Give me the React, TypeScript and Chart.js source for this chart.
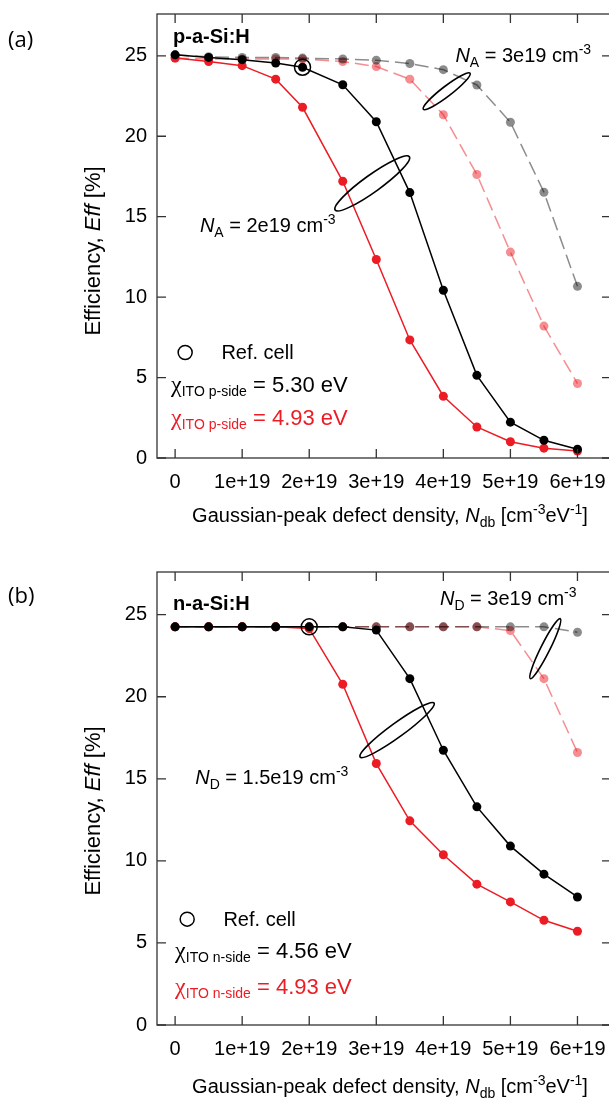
import React, { useEffect, useRef } from "react";
import { Chart, registerables } from "chart.js";
Chart.register(...registerables);

// ---------- data ----------
const xTickValues = [0, 1, 2, 3, 4, 5, 6]; // units of 1e19 cm^-3 eV^-1
const yTickValues = [0, 5, 10, 15, 20, 25];

// panel (a) p-a-Si:H
const xA = [0, 0.5, 1, 1.5, 1.9, 2.5, 3, 3.5, 4, 4.5, 5, 5.5, 6];
const effA_530_NA2 = [25.06, 24.9, 24.76, 24.55, 24.29, 23.2, 20.9, 16.5, 10.43, 5.14, 2.23, 1.1, 0.55];
const effA_493_NA2 = [24.86, 24.65, 24.39, 23.55, 21.8, 17.2, 12.34, 7.34, 3.84, 1.93, 1.01, 0.61, 0.43];
const effA_530_NA3 = [25.06, 24.94, 24.9, 24.9, 24.86, 24.8, 24.73, 24.52, 24.14, 23.19, 20.87, 16.52, 10.67];
const effA_493_NA3 = [24.86, 24.8, 24.8, 24.8, 24.8, 24.65, 24.33, 23.55, 21.34, 17.62, 12.8, 8.2, 4.63];
const refIndexA = 4;

// panel (b) n-a-Si:H
const xB = [0, 0.5, 1, 1.5, 2, 2.5, 3, 3.5, 4, 4.5, 5, 5.5, 6];
const effB_456_ND15 = [24.26, 24.26, 24.26, 24.26, 24.26, 24.26, 24.06, 21.1, 16.74, 13.29, 10.9, 9.19, 7.8];
const effB_493_ND15 = [24.26, 24.26, 24.26, 24.26, 24.15, 20.76, 15.93, 12.44, 10.37, 8.58, 7.5, 6.38, 5.71];
const effB_456_ND3 = [24.26, 24.26, 24.26, 24.26, 24.26, 24.26, 24.26, 24.26, 24.26, 24.26, 24.26, 24.26, 23.93];
const effB_493_ND3 = [24.26, 24.26, 24.26, 24.26, 24.26, 24.26, 24.26, 24.26, 24.26, 24.26, 24.03, 21.1, 16.6];
const refIndexB = 4;

// ---------- styles ----------
const BLACK = "#000000";
const RED = "#ec1c24";
const RED_LIGHT = "rgba(236,28,36,0.5)";
const GRAY = "rgba(0,0,0,0.45)";
const SANS = "'Liberation Sans', Arial, sans-serif";
const SERIF = "'Liberation Serif', 'Times New Roman', serif";

type Seg = { t: string; f: string; dy?: number; c?: string };

function richWidth(ctx: CanvasRenderingContext2D, segs: Seg[]) {
  let w = 0;
  for (const s of segs) {
    ctx.font = s.f;
    w += ctx.measureText(s.t).width;
  }
  return w;
}
function drawRich(ctx: CanvasRenderingContext2D, x: number, y: number, segs: Seg[], color: string) {
  let cx = x;
  ctx.textBaseline = "alphabetic";
  ctx.textAlign = "left";
  for (const s of segs) {
    ctx.font = s.f;
    ctx.fillStyle = s.c || color;
    ctx.fillText(s.t, cx, y + (s.dy || 0));
    cx += ctx.measureText(s.t).width;
  }
}

const F20 = `20px ${SANS}`;
const F20I = `italic 20px ${SANS}`;
const F14 = `14px ${SANS}`;

function dopingLabel(letter: string, value: string): Seg[] {
  return [
    { t: "N", f: F20I },
    { t: letter, f: F14, dy: 5 },
    { t: ` = ${value} cm`, f: F20 },
    { t: "-3", f: F14, dy: -8 },
  ];
}
function chiLabel(side: string, value: string): Seg[] {
  return [
    { t: "\u03c7", f: `24px ${SERIF}` },
    { t: `ITO ${side}`, f: F14, dy: 4 },
    { t: ` = ${value} eV`, f: `22px ${SANS}` },
  ];
}

type Panel = {
  canvasH: number;
  padTop: number;
  xAxisH: number;
  letter: string;
  letterY: number;
  yTitleY: number;
  xTitleY: number;
  xs: number[];
  blackSolid: number[];
  redSolid: number[];
  grayDashed: number[];
  redDashed: number[];
  refIndex: number;
  material: string;
  materialPos: [number, number];
  upperLabel: Seg[];
  upperLabelPos: [number, number];
  lowerLabel: Seg[];
  lowerLabelPos: [number, number];
  ellipses: { c: [number, number]; rx: number; ry: number; rot: number }[];
  legendCircle: [number, number];
  legendText: [number, number];
  chiBlack: Seg[];
  chiRed: Seg[];
  chiPos: [number, number, number];
};

const panelA: Panel = {
  canvasH: 540,
  padTop: 5,
  xAxisH: 82,
  letter: "(a)",
  letterY: 47,
  yTitleY: 251,
  xTitleY: 522,
  xs: xA,
  blackSolid: effA_530_NA2,
  redSolid: effA_493_NA2,
  grayDashed: effA_530_NA3,
  redDashed: effA_493_NA3,
  refIndex: refIndexA,
  material: "p-a-Si:H",
  materialPos: [-0.03, 25.8],
  upperLabel: dopingLabel("A", "3e19"),
  upperLabelPos: [4.18, 24.59],
  lowerLabel: dopingLabel("A", "2e19"),
  lowerLabelPos: [0.37, 14.02],
  ellipses: [
    { c: [4.05, 22.8], rx: 29.5, ry: 5, rot: -37.6 },
    { c: [2.94, 17.07], rx: 45.7, ry: 8.5, rot: -35.7 },
  ],
  legendCircle: [0.15, 6.56],
  legendText: [0.69, 6.18],
  chiBlack: chiLabel("p-side", "5.30"),
  chiRed: chiLabel("p-side", "4.93"),
  chiPos: [-0.06, 4.1, 2.03],
};

const panelB: Panel = {
  canvasH: 566,
  padTop: 32,
  xAxisH: 81,
  letter: "(b)",
  letterY: 63,
  yTitleY: 271,
  xTitleY: 553,
  xs: xB,
  blackSolid: effB_456_ND15,
  redSolid: effB_493_ND15,
  grayDashed: effB_456_ND3,
  redDashed: effB_493_ND3,
  refIndex: refIndexB,
  material: "n-a-Si:H",
  materialPos: [-0.03, 25.26],
  upperLabel: dopingLabel("D", "3e19"),
  upperLabelPos: [3.95, 25.56],
  lowerLabel: dopingLabel("D", "1.5e19"),
  lowerLabelPos: [0.3, 14.71],
  ellipses: [
    { c: [5.52, 22.93], rx: 33.5, ry: 4.5, rot: -63.4 },
    { c: [3.31, 17.97], rx: 45.8, ry: 7, rot: -36.1 },
  ],
  legendCircle: [0.18, 6.45],
  legendText: [0.72, 6.03],
  chiBlack: chiLabel("n-side", "4.56"),
  chiRed: chiLabel("n-side", "4.93"),
  chiPos: [0, 4.08, 1.89],
};

const xTitle: Seg[] = [
  { t: "Gaussian-peak defect density, ", f: F20 },
  { t: "N", f: F20I },
  { t: "db", f: F14, dy: 5 },
  { t: " [cm", f: F20 },
  { t: "-3", f: F14, dy: -8 },
  { t: "eV", f: F20 },
  { t: "-1", f: F14, dy: -8 },
  { t: "]", f: F20 },
];
const yTitle: Seg[] = [
  { t: "Efficiency, ", f: `22px ${SANS}` },
  { t: "Eff", f: `italic 22px ${SANS}` },
  { t: " [%]", f: `22px ${SANS}` },
];

function makePlugin(p: Panel) {
  return {
    id: "decor",
    afterDraw(chart: any) {
      const ctx: CanvasRenderingContext2D = chart.ctx;
      const { left, right, top, bottom } = chart.chartArea;
      const xs = chart.scales.x;
      const ys = chart.scales.y;
      const X = (v: number) => xs.getPixelForValue(v);
      const Y = (v: number) => ys.getPixelForValue(v);
      ctx.save();
      // frame + inward ticks
      ctx.strokeStyle = "#333";
      ctx.lineWidth = 1.3;
      ctx.strokeRect(left, top, right - left, bottom - top);
      ctx.beginPath();
      for (const v of xTickValues) {
        const px = X(v);
        ctx.moveTo(px, bottom);
        ctx.lineTo(px, bottom - 9);
        ctx.moveTo(px, top);
        ctx.lineTo(px, top + 9);
      }
      for (const v of yTickValues) {
        const py = Y(v);
        ctx.moveTo(left, py);
        ctx.lineTo(left + 9, py);
        ctx.moveTo(right, py);
        ctx.lineTo(right - 9, py);
      }
      ctx.stroke();

      // panel letter
      ctx.fillStyle = "#000";
      ctx.font = `22px 'Open Sans', ${SANS}`;
      ctx.textAlign = "left";
      ctx.textBaseline = "alphabetic";
      ctx.fillText(p.letter, 8, p.letterY);

      // y title
      ctx.save();
      ctx.translate(100, p.yTitleY);
      ctx.rotate(-Math.PI / 2);
      const yw = richWidth(ctx, yTitle);
      drawRich(ctx, -yw / 2, 0, yTitle, "#000");
      ctx.restore();

      // x title
      const xw = richWidth(ctx, xTitle);
      drawRich(ctx, 390 - xw / 2, p.xTitleY, xTitle, "#000");

      // material
      ctx.font = `bold 20px ${SANS}`;
      ctx.fillStyle = "#000";
      ctx.fillText(p.material, X(p.materialPos[0]), Y(p.materialPos[1]));

      // doping labels
      drawRich(ctx, X(p.upperLabelPos[0]), Y(p.upperLabelPos[1]), p.upperLabel, "#000");
      drawRich(ctx, X(p.lowerLabelPos[0]), Y(p.lowerLabelPos[1]), p.lowerLabel, "#000");

      // ellipses
      ctx.strokeStyle = "#000";
      ctx.lineWidth = 1.6;
      for (const e of p.ellipses) {
        ctx.beginPath();
        ctx.ellipse(X(e.c[0]), Y(e.c[1]), e.rx, e.ry, (e.rot * Math.PI) / 180, 0, Math.PI * 2);
        ctx.stroke();
      }

      // reference cell ring
      ctx.lineWidth = 1.5;
      ctx.beginPath();
      ctx.arc(X(p.xs[p.refIndex]), Y(p.blackSolid[p.refIndex]), 8, 0, Math.PI * 2);
      ctx.stroke();

      // legend
      ctx.beginPath();
      ctx.arc(X(p.legendCircle[0]), Y(p.legendCircle[1]), 7, 0, Math.PI * 2);
      ctx.stroke();
      ctx.font = `20px ${SANS}`;
      ctx.fillStyle = "#000";
      ctx.fillText("Ref. cell", X(p.legendText[0]), Y(p.legendText[1]));
      drawRich(ctx, X(p.chiPos[0]), Y(p.chiPos[1]), p.chiBlack, "#000");
      drawRich(ctx, X(p.chiPos[0]), Y(p.chiPos[2]), p.chiRed, RED);
      ctx.restore();
    },
  };
}

function ds(xs: number[], ys: number[], color: string, dashed: boolean) {
  return {
    data: xs.map((x, i) => ({ x, y: ys[i] })),
    borderColor: color,
    backgroundColor: color,
    pointBackgroundColor: color,
    pointBorderWidth: 0,
    pointRadius: 4.5,
    borderWidth: 1.5,
    borderDash: dashed ? [14, 6] : [],
    tension: 0,
  };
}

function PanelChart({ p, top }: { p: Panel; top: number }) {
  const ref = useRef<HTMLCanvasElement | null>(null);
  useEffect(() => {
    if (!ref.current) return;
    const chart = new Chart(ref.current, {
      type: "line",
      data: {
        datasets: [
          ds(p.xs, p.blackSolid, BLACK, false),
          ds(p.xs, p.redSolid, RED, false),
          ds(p.xs, p.grayDashed, GRAY, true),
          ds(p.xs, p.redDashed, RED_LIGHT, true),
        ] as any,
      },
      options: {
        responsive: false,
        animation: false,
        devicePixelRatio: 1,
        layout: { padding: { left: 0, top: p.padTop, right: 9, bottom: 0 } },
        plugins: { legend: { display: false }, tooltip: { enabled: false } },
        scales: {
          x: {
            type: "linear",
            min: -0.27,
            max: 6.5,
            grid: { display: false },
            border: { display: false },
            ticks: {
              font: { family: SANS, size: 20 },
              color: "#000",
              padding: 4,
              maxRotation: 0,
              autoSkip: false,
              callback: (v: any) => (v === 0 ? "0" : `${v}e+19`),
            },
            afterBuildTicks: (s: any) => {
              s.ticks = xTickValues.map((v) => ({ value: v }));
            },
            afterFit: (s: any) => {
              s.height = p.xAxisH;
            },
          },
          y: {
            type: "linear",
            min: 0,
            max: 27.6,
            grid: { display: false },
            border: { display: false },
            ticks: {
              font: { family: SANS, size: 20 },
              color: "#000",
              padding: 2,
              autoSkip: false,
            },
            afterBuildTicks: (s: any) => {
              s.ticks = yTickValues.map((v) => ({ value: v }));
            },
            afterFit: (s: any) => {
              s.width = 157;
            },
          },
        },
      } as any,
      plugins: [makePlugin(p)],
    });
    return () => chart.destroy();
  }, [p]);
  return (
    <canvas
      ref={ref}
      width={620}
      height={p.canvasH}
      style={{ position: "absolute", left: 0, top, width: 620, height: p.canvasH }}
    />
  );
}

export default function App() {
  return (
    <div
      style={{
        position: "absolute",
        left: 0,
        top: 0,
        width: 609,
        height: 1106,
        overflow: "hidden",
        background: "#fff",
      }}
    >
      <PanelChart p={panelA} top={0} />
      <PanelChart p={panelB} top={540} />
    </div>
  );
}
